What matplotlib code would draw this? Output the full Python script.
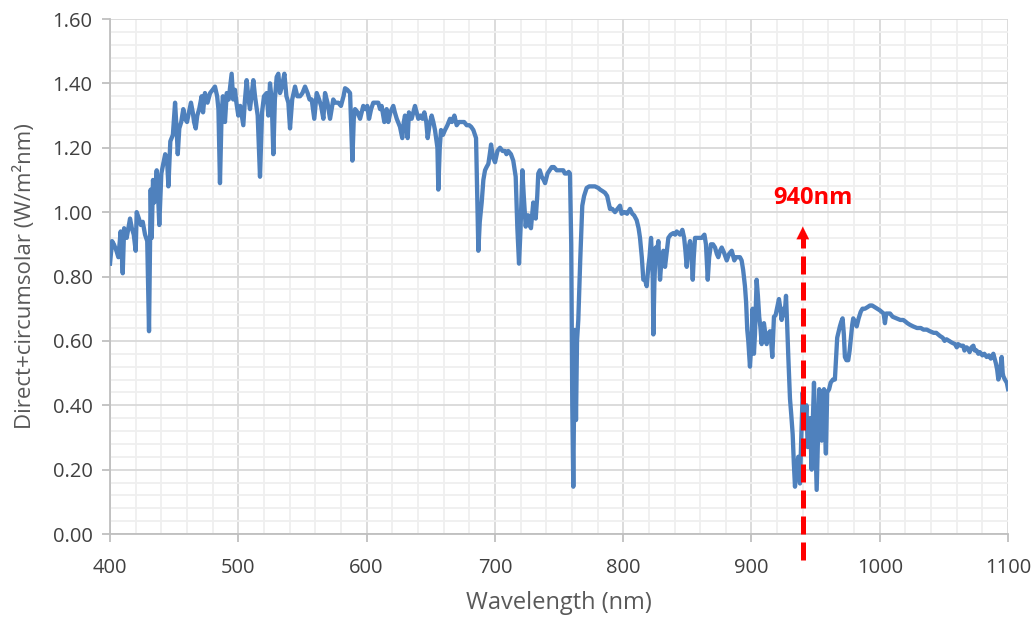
import matplotlib
matplotlib.use("Agg")
import matplotlib.pyplot as plt
from matplotlib.ticker import MultipleLocator, FormatStrFormatter

plt.rcParams['font.family'] = ['Open Sans', 'DejaVu Sans']

# spectrum (nm, W/m2nm)
wavelength = [
    400, 401.6, 403, 405, 406.5, 408.3, 409.9, 411, 413, 415.6, 417, 418.5, 420, 420.8, 422.5, 424,
    425.5, 427.3, 429, 430.4, 431.7, 432.5, 433.5, 434.5, 436.4, 437.5, 438.4, 440, 441.5, 443, 444.5,
    445.5, 447, 449, 450.7, 452, 452.8, 454, 455.5, 457.1, 458.5, 460, 461.5, 463.1, 464.5, 465.5,
    466.8, 468, 469.5, 471.4, 472.5, 474, 476, 478, 480, 481.8, 483.5, 484.5, 485.7, 487, 488, 489.6,
    491, 492.5, 494.8, 496, 497.4, 498.5, 500, 501.5, 503.9, 505, 506.5, 508, 509.1, 510.5, 511.7,
    513, 515.1, 516.9, 518.5, 520, 522.1, 523.4, 524.7, 526, 527.3, 528.5, 529.9, 531.2, 532.5, 534,
    535.9, 537.5, 539, 540.3, 542, 544.2, 546, 548.1, 550, 552, 554, 555.5, 557.2, 559.2, 561.1, 563,
    564.5, 566.3, 567.6, 569.5, 571.5, 574, 575.5, 577.9, 580, 582, 583.2, 585, 587.1, 588.9, 590,
    591, 593, 594.9, 597.4, 599, 600.5, 601.9, 603.5, 605.2, 607, 609.1, 610.5, 611.7, 613.8, 615.6,
    616.9, 618.5, 620.8, 622, 623.5, 626, 627.8, 629, 629.9, 631, 632, 633, 635.1, 637.7, 639, 640.3,
    642, 643.5, 645, 646.5, 647.6, 649, 650.7, 652, 653.3, 655.2, 655.9, 657, 658, 659.5, 661.1, 663,
    665, 666.5, 668.4, 670.2, 672, 674.1, 676, 678, 680, 681.5, 683.2, 685.3, 687.1, 688.2, 689.7,
    691, 692.3, 693.5, 694.9, 696, 697, 698.5, 700.1, 702, 704, 706, 707.9, 709, 710.4, 712.5, 714.3,
    716.2, 717.5, 718.8, 720, 721.4, 722.5, 724, 725, 726, 727, 728.1, 729.9, 731.8, 733, 733.8, 735,
    736.5, 738, 739.1, 741, 744.3, 746, 748.2, 750.5, 753.3, 754.5, 756, 757.5, 758.5, 759.5, 760.3,
    761.1, 761.8, 762.4, 763.2, 764, 765, 766.5, 768.1, 769.5, 771.5, 773.5, 775.4, 778, 780.6, 782,
    784, 785.8, 787.5, 789.7, 791.5, 793.6, 795.5, 797.5, 798.8, 800.5, 801.4, 803, 805.3, 807.1,
    808.5, 810.5, 812, 813.1, 814.5, 815.7, 817, 818.3, 819.6, 820.5, 821.7, 823, 823.5, 824.3, 825.3,
    826.5, 827.4, 828.7, 830, 831.3, 832.6, 834, 835.2, 837, 839.1, 840.5, 841.7, 843, 844.3, 846.1,
    847.5, 848.5, 849.5, 850.5, 852.1, 853, 854.2, 855, 856, 858, 861.2, 863.3, 864.5, 865.9, 867,
    868.4, 870, 871.6, 873, 874.1, 875.5, 876.8, 878.5, 880.7, 882.5, 884.6, 886.6, 888, 889.7, 891,
    892.3, 893.5, 894.9, 895.8, 896.7, 897.5, 898.8, 900, 900.9, 901.9, 902.7, 903.5, 904, 905, 906,
    907, 907.9, 908.8, 909.7, 910.8, 911.8, 913, 914.4, 915.3, 916.2, 917.5, 918.8, 920.1, 921.4,
    922.5, 923.5, 924.8, 925.8, 926.9, 927.8, 928.7, 930, 931, 932.1, 933, 933.9, 935, 936.5, 937.8,
    938.8, 939.9, 940.8, 941.7, 942.8, 943.8, 944.7, 945.6, 946.9, 947.8, 948.7, 949.8, 950.8, 951.8,
    952.8, 953.8, 954.7, 955.6, 956.5, 957.3, 958, 959, 960.5, 961.7, 963.5, 965, 966.8, 968, 968.9,
    970, 971, 972, 972.8, 974, 975.4, 976.5, 977.5, 978.5, 979.3, 980.5, 982, 983.5, 985.1, 986.5,
    988.4, 990.5, 992.3, 994, 996, 998, 1000, 1001.5, 1003, 1004, 1005, 1008, 1010, 1013, 1016,
    1018.3, 1020, 1021.5, 1023.5, 1026, 1029, 1032, 1034, 1036.6, 1039, 1042, 1044, 1047, 1049,
    1050.5, 1052, 1054, 1056, 1058.6, 1060, 1061, 1063, 1065, 1066, 1067.7, 1069, 1070, 1071.5,
    1072.9, 1074, 1075.5, 1076.8, 1078, 1080, 1081.5, 1083.3, 1085, 1086.5, 1088.5, 1089.5, 1090.5,
    1091.5, 1092.4, 1093.5, 1095, 1095.8, 1096.3, 1097.5, 1099, 1100,
]
irradiance = [
    0.84, 0.91, 0.90, 0.88, 0.86, 0.94, 0.81, 0.95, 0.92, 0.98, 0.95, 0.93, 0.88, 1.00, 0.98, 0.96,
    0.97, 0.93, 0.91, 0.63, 1.07, 0.92, 1.10, 1.03, 1.13, 1.05, 0.96, 1.12, 1.15, 1.18, 1.16,
    1.08, 1.22, 1.24, 1.34, 1.25, 1.18, 1.26, 1.28, 1.32, 1.29, 1.28, 1.31, 1.34, 1.31, 1.28,
    1.26, 1.30, 1.32, 1.36, 1.31, 1.37, 1.34, 1.37, 1.38, 1.39, 1.36, 1.32, 1.09, 1.31, 1.36, 1.28,
    1.37, 1.35, 1.43, 1.35, 1.38, 1.34, 1.30, 1.33, 1.27, 1.34, 1.41, 1.35, 1.32, 1.37, 1.41,
    1.36, 1.30, 1.11, 1.31, 1.36, 1.37, 1.30, 1.40, 1.35, 1.18, 1.35, 1.42, 1.43, 1.37, 1.39,
    1.43, 1.36, 1.34, 1.26, 1.35, 1.39, 1.36, 1.36, 1.37, 1.39, 1.37, 1.35, 1.35, 1.29, 1.37, 1.35,
    1.33, 1.29, 1.37, 1.34, 1.29, 1.35, 1.34, 1.34, 1.33, 1.36, 1.385, 1.38, 1.37, 1.16, 1.29,
    1.32, 1.31, 1.29, 1.33, 1.32, 1.33, 1.29, 1.32, 1.34, 1.34, 1.34, 1.32, 1.33, 1.28, 1.32,
    1.28, 1.31, 1.33, 1.31, 1.29, 1.265, 1.23, 1.28, 1.30, 1.27, 1.23, 1.31, 1.29, 1.33, 1.31, 1.29,
    1.30, 1.29, 1.31, 1.28, 1.23, 1.27, 1.30, 1.28, 1.255, 1.20, 1.07, 1.20, 1.255, 1.24, 1.255, 1.27,
    1.29, 1.28, 1.30, 1.27, 1.28, 1.28, 1.28, 1.27, 1.27, 1.265, 1.255, 1.23, 0.88, 0.97, 1.03,
    1.10, 1.13, 1.14, 1.15, 1.18, 1.21, 1.17, 1.155, 1.19, 1.20, 1.19, 1.19, 1.18, 1.19, 1.18, 1.16,
    1.11, 0.95, 0.84, 0.95, 1.13, 1.05, 0.955, 0.99, 0.99, 0.96, 0.95, 1.03, 0.98, 1.05, 1.12, 1.13,
    1.11, 1.10, 1.09, 1.12, 1.14, 1.14, 1.13, 1.13, 1.13, 1.12, 1.12, 1.125, 1.12, 0.90, 0.40,
    0.147, 0.45, 0.634, 0.354, 0.60, 0.665, 0.85, 1.02, 1.05, 1.075, 1.08, 1.08, 1.08, 1.075, 1.07,
    1.065, 1.06, 1.05, 1.01, 1.01, 1.00, 1.01, 1.02, 0.995, 1.00, 1.00, 0.995, 1.01, 0.995,
    0.99, 0.975, 0.95, 0.92, 0.86, 0.79, 0.79, 0.77, 0.83, 0.86, 0.92, 0.80, 0.62, 0.78, 0.89,
    0.88, 0.91, 0.79, 0.86, 0.88, 0.83, 0.88, 0.92, 0.93, 0.935, 0.93, 0.94, 0.935, 0.93, 0.945,
    0.92, 0.88, 0.83, 0.88, 0.91, 0.88, 0.79, 0.86, 0.92, 0.92, 0.92, 0.93, 0.90, 0.79, 0.86,
    0.90, 0.90, 0.89, 0.87, 0.86, 0.88, 0.89, 0.875, 0.85, 0.87, 0.88, 0.85, 0.86, 0.86, 0.86,
    0.85, 0.82, 0.77, 0.72, 0.634, 0.60, 0.52, 0.60, 0.70, 0.56, 0.62, 0.72, 0.79, 0.74, 0.675,
    0.64, 0.59, 0.64, 0.655, 0.62, 0.59, 0.62, 0.63, 0.60, 0.55, 0.675, 0.68, 0.705, 0.73,
    0.70, 0.665, 0.70, 0.68, 0.74, 0.65, 0.55, 0.42, 0.37, 0.31, 0.22, 0.147, 0.20, 0.24, 0.157,
    0.30, 0.44, 0.38, 0.33, 0.40, 0.27, 0.32, 0.36, 0.20, 0.35, 0.47, 0.30, 0.137, 0.30,
    0.45, 0.35, 0.29, 0.38, 0.45, 0.33, 0.25, 0.44, 0.45, 0.47, 0.48, 0.48, 0.61, 0.63, 0.645,
    0.66, 0.67, 0.62, 0.55, 0.54, 0.54, 0.57, 0.61, 0.65, 0.67, 0.66, 0.645, 0.67, 0.69, 0.70,
    0.70, 0.705, 0.71, 0.71, 0.705, 0.70, 0.695, 0.69, 0.685, 0.655, 0.685, 0.685, 0.675, 0.67, 0.665,
    0.665, 0.66, 0.655, 0.65, 0.645, 0.64, 0.64, 0.635, 0.635, 0.63, 0.625, 0.625, 0.615, 0.61,
    0.60, 0.605, 0.60, 0.595, 0.59, 0.58, 0.59, 0.585, 0.585, 0.57, 0.58, 0.575, 0.565, 0.58,
    0.585, 0.57, 0.57, 0.56, 0.565, 0.555, 0.56, 0.55, 0.555, 0.545, 0.56, 0.545, 0.53,
    0.51, 0.48, 0.50, 0.55, 0.50, 0.49, 0.48, 0.47, 0.45,
]

marker_nm = 940
marker_label = "940nm"

gray = "#595959"
fig = plt.figure(figsize=(10.35, 6.17), dpi=100)
ax = fig.add_axes([0.1063, 0.1345, 0.8677, 0.8347])

ax.plot(wavelength, irradiance, color="#4F81BD", lw=3.1, solid_joinstyle="round", zorder=3)

ax.set_xlim(400, 1100)
ax.set_ylim(0, 1.6)
ax.xaxis.set_major_locator(MultipleLocator(100))
ax.xaxis.set_minor_locator(MultipleLocator(20))
ax.yaxis.set_major_locator(MultipleLocator(0.2))
ax.yaxis.set_minor_locator(MultipleLocator(0.04))
ax.yaxis.set_major_formatter(FormatStrFormatter("%.2f"))

ax.grid(which="major", color="#D9D9D9", lw=1.3, zorder=0)
ax.grid(which="minor", color="#EFEFEF", lw=1.3, zorder=0)
ax.set_axisbelow(True)

for s in ["top", "right"]:
    ax.spines[s].set_visible(False)
for s in ["left", "bottom"]:
    ax.spines[s].set_color("#BFBFBF")
    ax.spines[s].set_linewidth(1.3)

ax.tick_params(which="major", length=5.5, width=1.3, color="#BFBFBF",
               labelsize=14.5, labelcolor="#404040")
ax.tick_params(axis="x", which="major", pad=12)
ax.tick_params(axis="y", which="major", pad=7)
ax.tick_params(which="minor", length=0)

ax.set_xlabel("Wavelength (nm)", fontsize=17, color=gray, labelpad=9)
ax.set_ylabel("Direct+circumsolar (W/m²nm)", fontsize=16, color=gray, labelpad=12)

# red dashed arrow at 940 nm
ax.plot([marker_nm, marker_nm], [-0.08, 0.92], color="#FF0000", lw=3.6,
        dashes=(3.6, 1.6), clip_on=False, zorder=5)
ax.annotate("", xy=(marker_nm, 0.955), xytext=(marker_nm, 0.905),
            arrowprops=dict(arrowstyle="-|>,head_length=0.9,head_width=0.45",
                            color="#FF0000", lw=0.1, shrinkA=0, shrinkB=0),
            zorder=6)
ax.text(marker_nm + 8, 1.045, marker_label, color="#FF0000", fontsize=17,
        fontweight="bold", ha="center", va="center", zorder=6)

fig.savefig("out.png", dpi=100)
